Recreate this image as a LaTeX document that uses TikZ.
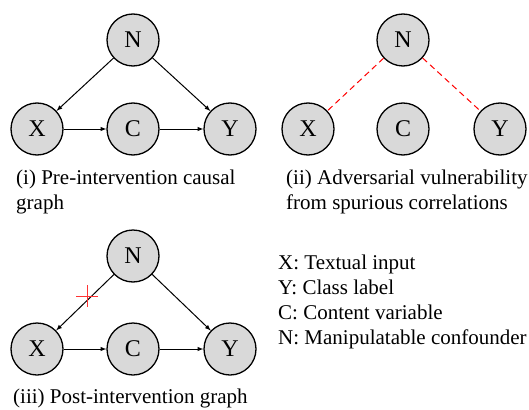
\documentclass[tikz,border=0pt]{standalone}
\usepackage{fontspec}
\setmainfont{Liberation Serif}
\usetikzlibrary{arrows}

\definecolor{nodegray}{HTML}{D9D9D9}
\tikzset{
	varnode/.style={circle, draw, line width=1.3pt, fill=nodegray, minimum size=52pt, inner sep=0pt, font=\fontsize{24}{28}\selectfont},
	captext/.style={anchor=base west, inner sep=0pt, font=\fontsize{21}{25}\selectfont},
	edge/.style={arrows={-latex}, line width=1pt},
	spurious/.style={red, line width=1pt, dash pattern=on 6pt off 4pt}
}

\begin{document}
\begin{tikzpicture}[x=1pt, y=-1pt]

	\useasboundingbox (0,0) rectangle (529,409);

	% (i) pre-intervention
	\node [varnode] (n1) at (133,40) {N};
	\node [varnode] (x1) at (37,129) {X};
	\node [varnode] (c1) at (133,129) {C};
	\node [varnode] (y1) at (230,129) {Y};
	\draw [edge] (n1) -- (x1);
	\draw [edge] (n1) -- (y1);
	\draw [edge] (x1) -- (c1);
	\draw [edge] (c1) -- (y1);
	\node [captext] (cap1) at (16,184) {(i) Pre-intervention causal};
	\node [captext] (cap1b) at (16,209) {graph};

	% (ii) adversarial
	\node [varnode] (n2) at (403,40) {N};
	\node [varnode] (x2) at (308,129) {X};
	\node [varnode] (c2) at (403,129) {C};
	\node [varnode] (y2) at (500,129) {Y};
	\draw [spurious] (n2) -- (x2);
	\draw [spurious] (n2) -- (y2);
	\node [captext] (cap2) at (286,184) {(ii) Adversarial vulnerability};
	\node [captext] (cap2b) at (286,209) {from spurious correlations};

	% (iii) post-intervention
	\node [varnode] (n3) at (133,256) {N};
	\node [varnode] (x3) at (37,349) {X};
	\node [varnode] (c3) at (133,349) {C};
	\node [varnode] (y3) at (230,349) {Y};
	\draw [edge] (n3) -- (x3);
	\draw [edge] (n3) -- (y3);
	\draw [edge] (x3) -- (c3);
	\draw [edge] (c3) -- (y3);
	\coordinate (cut) at (87,296);
	\draw [red!80, line width=0.8pt] ([xshift=-11pt]cut) -- ([xshift=11pt]cut);
	\draw [red!80, line width=0.8pt] ([yshift=-11pt]cut) -- ([yshift=11pt]cut);
	\node [captext] (cap3) at (13,403) {(iii) Post-intervention graph};

	% legend
	\node [captext] (lx) at (278,269) {X: Textual input};
	\node [captext] (ly) at (278,294) {Y: Class label};
	\node [captext] (lc) at (278,319) {C: Content variable};
	\node [captext] (ln) at (278,344) {N: Manipulatable confounder};

\end{tikzpicture}
\end{document}
